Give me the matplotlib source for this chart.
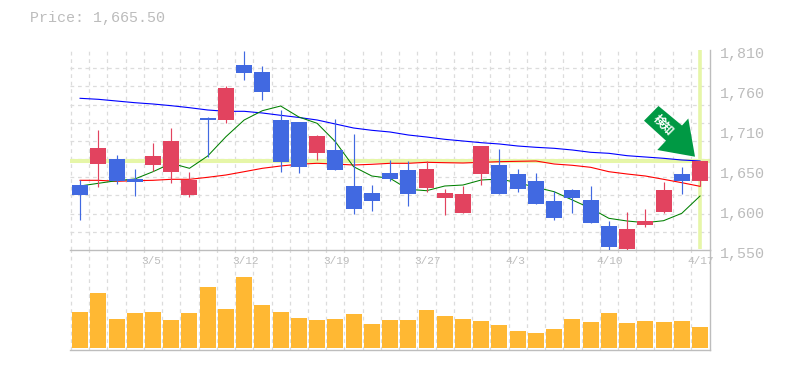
import numpy as np
import matplotlib
matplotlib.use("Agg")
from matplotlib import pyplot as plt
from matplotlib.patches import Polygon
from matplotlib.transforms import ScaledTranslation, IdentityTransform

plt.rcParams['font.family'] = ['Liberation Mono', 'DejaVu Sans Mono']

opens = [1634.5, 1661.8, 1668.3, 1642.3, 1660.5, 1651.4, 1621.5, 1721.6, 1719, 1790.5, 1781.4, 1719,
         1716.4, 1676.1, 1680, 1633.2, 1624.1, 1650.1, 1654, 1630.6, 1617.6, 1598.1, 1648.8, 1660.5,
         1648.8, 1639.7, 1613.7, 1628, 1615, 1581.2, 1551.3, 1582.5, 1599.4, 1648.8, 1639.7]
closes = [1621.5, 1682.6, 1639.7, 1638.4, 1672.2, 1691.7, 1641, 1719, 1760.6, 1780.1, 1755.4, 1664.4,
          1657.9, 1698.2, 1654, 1603.3, 1613.7, 1642.3, 1622.8, 1655.3, 1624.1, 1622.8, 1685.2, 1622.8,
          1629.3, 1609.8, 1591.6, 1617.6, 1585.1, 1553.9, 1577.3, 1587.7, 1628, 1639.7, 1665.5]
highs = [1641, 1706, 1673.5, 1655.3, 1689.1, 1708.6, 1651.4, 1722.9, 1763.2, 1808.7, 1789.2, 1732,
         1716.4, 1699.5, 1720.3, 1700.8, 1634.5, 1667, 1665.7, 1665.7, 1629.3, 1633.2, 1685.2, 1681.3,
         1655.3, 1650.1, 1626.7, 1629.3, 1633.2, 1587.7, 1599.4, 1603.3, 1638.4, 1657.9, 1665.7]
lows = [1589, 1632, 1635.8, 1620.2, 1652.7, 1637.1, 1618.9, 1670.9, 1715.1, 1771, 1745, 1651.4,
        1650.1, 1667, 1654, 1596.8, 1600.7, 1639.7, 1607.2, 1625.4, 1595.5, 1598.1, 1634.5, 1622.8,
        1625.4, 1609.8, 1589, 1598.1, 1585.1, 1548.7, 1548.7, 1579.9, 1598.1, 1622.8, 1633.2]

ma_blue = [1747.2, 1745.9, 1743.7, 1741.5, 1739.8, 1737.6, 1735, 1732, 1730.3, 1730.3, 1728.1, 1725.1,
           1722.3, 1719, 1713.8, 1708.6, 1705.6, 1703.4, 1699.5, 1696.9, 1693.9, 1691.7, 1689.5, 1687.8,
           1685.2, 1683.5, 1682.2, 1680, 1677, 1675.7, 1672.6, 1670.9, 1669.2, 1667, 1665.7]
ma_red = [1640.6, 1640.6, 1639.3, 1640.1, 1640.6, 1641.9, 1641.9, 1644.5, 1647.5, 1651.8, 1656.2, 1659.2,
          1661.5, 1662.7, 1661.8, 1660.5, 1661.4, 1662.7, 1662.7, 1664, 1663.5, 1663.1, 1664, 1664.8,
          1665.3, 1665.7, 1661.8, 1660.1, 1657.5, 1651.8, 1648.8, 1646.2, 1641.9, 1637.5, 1632.8]
ma_green = [1633.2, 1636.7, 1640.1, 1642.3, 1651.8, 1662.7, 1656.2, 1672.2, 1697.3, 1719, 1731.1, 1737.2,
            1722.9, 1714.7, 1690.8, 1658.3, 1646.2, 1643.2, 1628.9, 1627.1, 1633.2, 1634.5, 1641, 1642.3,
            1637.5, 1631.5, 1625.8, 1615, 1604.2, 1591.2, 1587.7, 1585.5, 1588.1, 1597.7, 1620.2]
volumes = [36, 55, 29, 35, 36, 28, 35, 61, 39, 71, 43, 36, 30, 28, 29, 34, 24, 28,
           28, 38, 32, 29, 27, 23, 17, 15, 19, 29, 26, 35, 25, 27, 26, 27, 21]

last_price = 1665.5
price_ticks = [1550, 1602, 1654, 1706, 1758, 1810]
price_labels = ['1,550', '1,600', '1,650', '1,710', '1,760', '1,810']
date_pos = [3.5, 8.5, 13.5, 18.5, 23.5, 28.5, 33.5]
date_labels = ['3/5', '3/12', '3/19', '3/27', '4/3', '4/10', '4/17']

W, H = 785, 370
GRID = '#dcdcdc'
AXIS = '#bdbdbd'
TEXT = '#bcbcbc'
BAND = '#e6f6a8'
UP = '#e2435f'
DOWN = '#4169e1'

fig = plt.figure(figsize=(W / 100, H / 100), dpi=100)
ax_p = fig.add_axes([70.4 / W, 1 - 250 / H, 639.3 / W, 200 / H], zorder=2)
ax_v = fig.add_axes([70.4 / W, 1 - 350 / H, 639.3 / W, 100 / H], zorder=1)

x = np.arange(len(opens))
vgrid = np.arange(-0.5, 34.5, 1)

for ax in (ax_p, ax_v):
    ax.set_xlim(-0.53, 34.53)
    ax.set_xticks(vgrid)
    ax.grid(axis='x', color=GRID, ls=(0, (3, 3)), lw=0.9)
    ax.set_axisbelow(True)
    ax.spines['top'].set_visible(False)
    ax.spines['left'].set_visible(False)
    ax.spines['right'].set_color(AXIS)
    ax.spines['bottom'].set_color(AXIS)
    ax.spines['right'].set_linewidth(1.0)
    ax.spines['bottom'].set_linewidth(1.0)
    ax.tick_params(length=0)

# price panel
ax_p.patch.set_alpha(0)
ax_p.set_ylim(1550, 1810)
ax_p.yaxis.tick_right()
ax_p.set_yticks(price_ticks)
ax_p.set_yticklabels(price_labels, fontsize=10.8, color=TEXT)
ax_p.set_yticks(np.linspace(1550, 1810, 12), minor=True)
ax_p.grid(axis='y', which='minor', color=GRID, ls=(0, (3, 3)), lw=0.9)
ax_p.tick_params(axis='y', which='both', length=0, pad=7.5)
for lab in ax_p.get_yticklabels():
    lab.set_transform(lab.get_transform() + ScaledTranslation(0, -2.5 / 100, fig.dpi_scale_trans))

ax_p.set_xticklabels([date_labels[date_pos.index(v)] if v in date_pos else '' for v in vgrid],
                     fontsize=8, color=TEXT, ha='left')
ax_p.tick_params(axis='x', pad=4)
for lab in ax_p.get_xticklabels():
    lab.set_transform(lab.get_transform() + ScaledTranslation(-3 / 100, 0, fig.dpi_scale_trans))

ax_p.axhline(last_price, color=BAND, lw=2.9, zorder=1.5)
ax_p.plot([x[-1], x[-1]], [1551, 1810], color=BAND, lw=2.6, zorder=1.5, solid_capstyle='butt')

ax_p.plot(x, ma_blue, color='#0000ff', lw=0.8, zorder=2)
ax_p.plot(x, ma_red, color='#ff0000', lw=0.8, zorder=2)
ax_p.plot(x, ma_green, color='#008000', lw=0.75, zorder=2)

colors = [UP if c > o else DOWN for o, c in zip(opens, closes)]
ax_p.vlines(x, lows, highs, colors=colors, lw=0.85, zorder=3)
ax_p.bar(x, np.abs(np.array(closes) - np.array(opens)), bottom=np.minimum(opens, closes),
         width=0.875, color=colors, zorder=4)

# signal arrow, figure pixels measured from the top left
arrow_px = [(644, 120.7), (658.5, 106), (682, 125.5), (688.3, 118.5), (695, 156.7), (657.3, 150), (666, 140.7)]
fig.add_artist(Polygon([(px, H - py) for px, py in arrow_px], closed=True, transform=IdentityTransform(),
                       facecolor='#009944', edgecolor='none', zorder=5))
fig.text(663.5 / W, 1 - 125 / H, '検知', rotation=-45, rotation_mode='anchor', ha='center', va='center',
         color='white', fontsize=8.5, fontweight='bold', family=['Noto Sans CJK JP', 'DejaVu Sans'], zorder=6)

# volume panel
ax_v.set_ylim(-2, 98)
ax_v.set_yticks([])
ax_v.set_xticklabels([])
ax_v.bar(x, volumes, width=0.875, color='#ffb833', zorder=3)

fig.text(30 / W, 1 - 18 / H, 'Price: 1,665.50', fontsize=10.8, color=TEXT, va='center', ha='left')

fig.savefig('out.png', dpi=100)
